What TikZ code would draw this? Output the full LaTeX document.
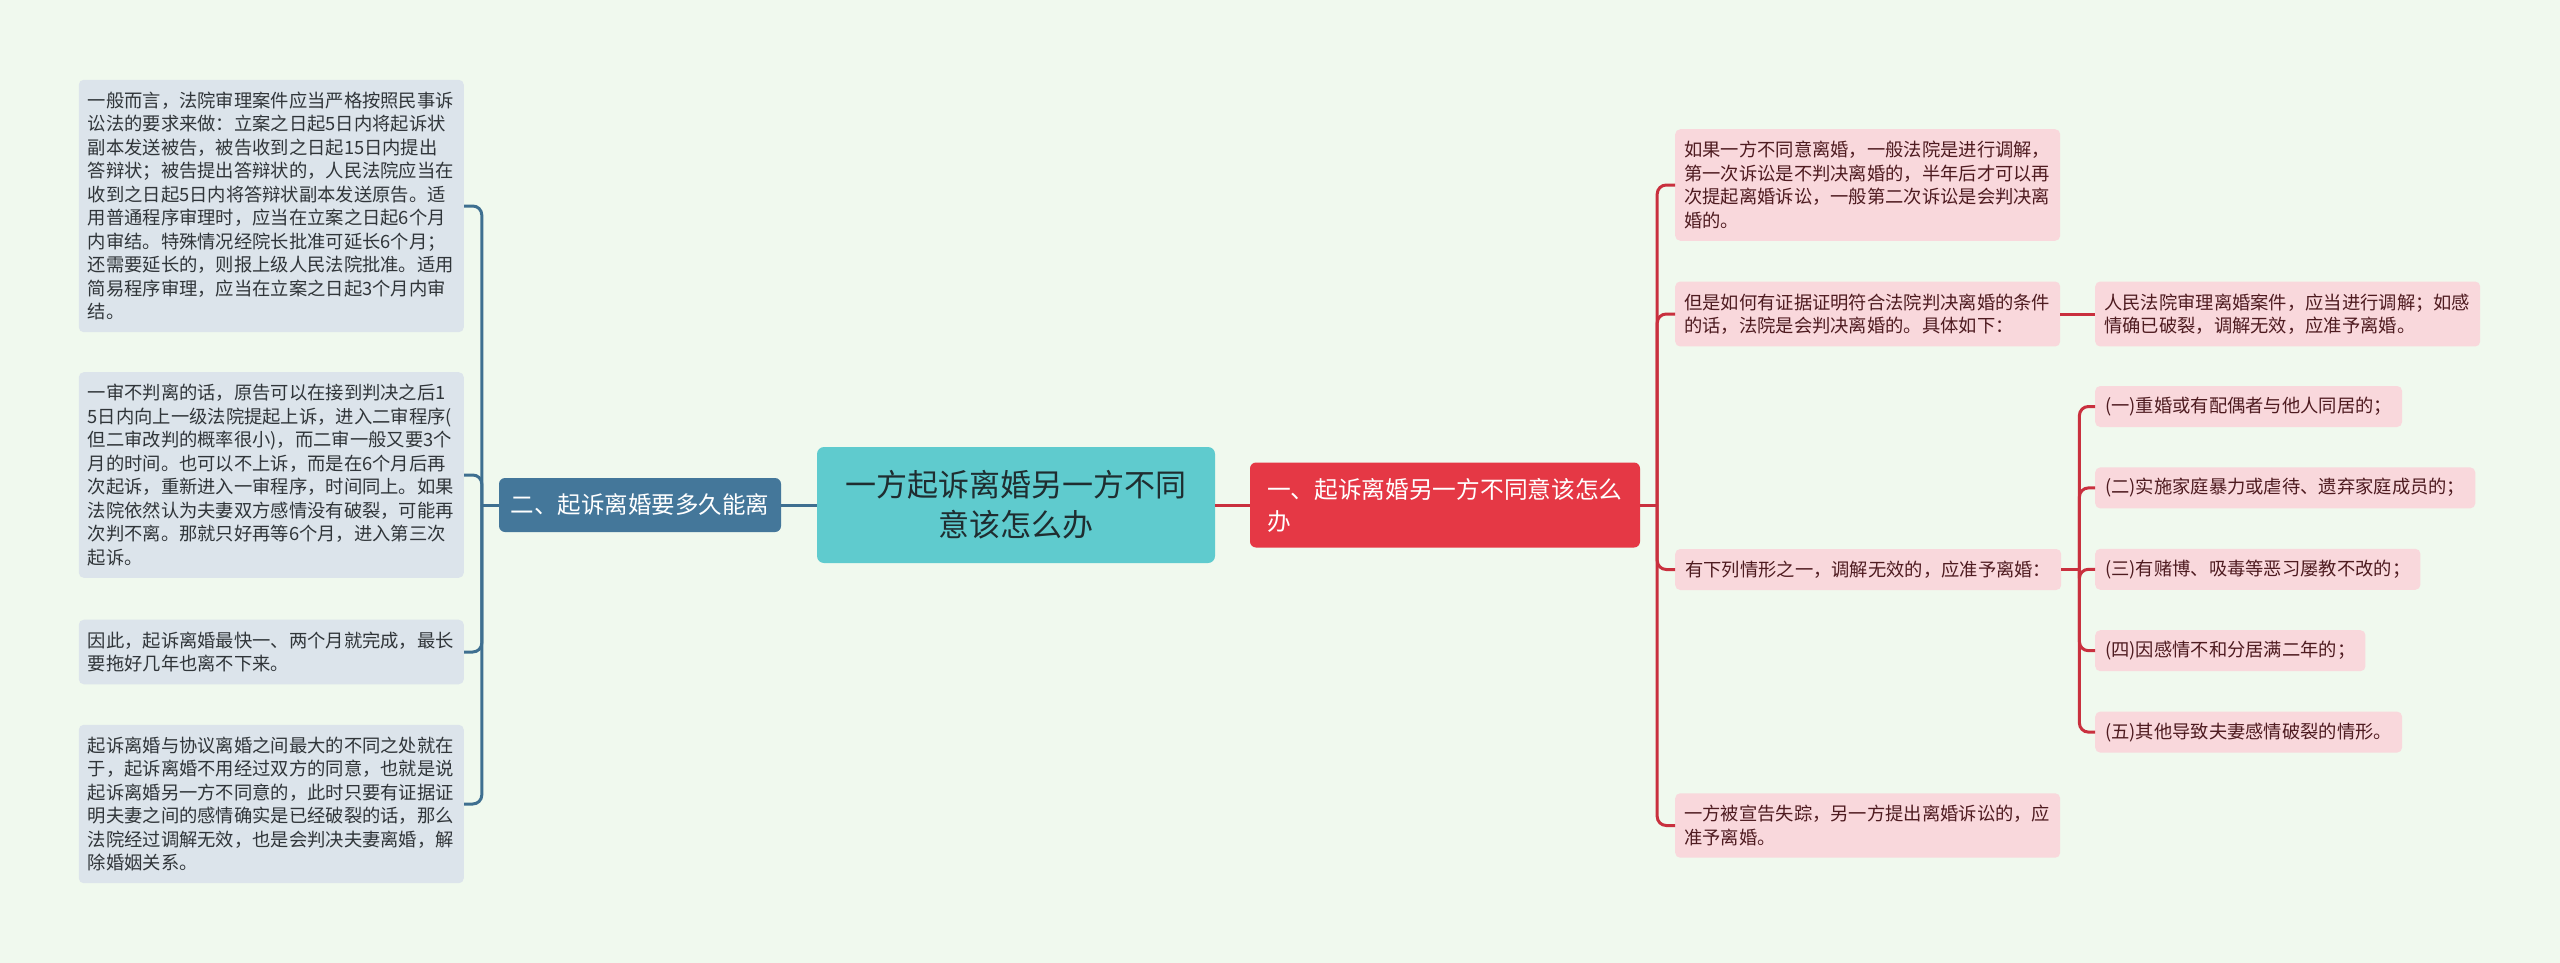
\documentclass[tikz,border=0pt]{standalone}
\usepackage{fontspec}
\setmainfont{Noto Sans CJK SC}
\usetikzlibrary{positioning, calc}
\definecolor{Canvas}{HTML}{F0F9EE}
\definecolor{RootTeal}{HTML}{5FCBCE}
\definecolor{RootInk}{HTML}{1F2D30}
\definecolor{SteelBlue}{HTML}{44779A}
\definecolor{BlueLine}{HTML}{3E6F90}
\definecolor{NoteBlue}{HTML}{DCE4EB}
\definecolor{NoteInk}{HTML}{303539}
\definecolor{Crimson}{HTML}{E53845}
\definecolor{RedLine}{HTML}{C9303E}
\definecolor{NotePink}{HTML}{F9D8DC}
\definecolor{PinkInk}{HTML}{4E1B20}

\begin{document}
\begin{tikzpicture}[
    x=1pt, y=-1pt,
    root/.style={
        fill=RootTeal, text=RootInk, rounded corners=7pt, inner sep=0pt,
        minimum width=398pt, minimum height=116pt, text width=342pt,
        align=center, font=\fontsize{31}{40}\selectfont
    },
    secL/.style={
        fill=SteelBlue, text=white, rounded corners=6pt, inner sep=0pt,
        minimum width=282pt, minimum height=54pt,
        font=\fontsize{23.5}{30}\selectfont
    },
    secR/.style={
        fill=Crimson, text=white, rounded corners=6pt, inner sep=0pt,
        minimum width=390pt, minimum height=85pt, text width=356pt,
        align=left, font=\fontsize{23.7}{32}\selectfont
    },
    noteL/.style={
        fill=NoteBlue, text=NoteInk, rounded corners=5pt,
        inner xsep=9pt, inner ysep=12pt, text width=367pt,
        align=left, font=\fontsize{18.3}{23.5}\selectfont
    },
    noteR/.style={noteL, fill=NotePink, text=PinkInk},
    itemR/.style={
        fill=NotePink, text=PinkInk, rounded corners=5pt,
        inner xsep=10pt, inner ysep=0pt, minimum height=41pt,
        font=\fontsize{18.3}{23.5}\selectfont
    },
    blueline/.style={draw=BlueLine, line width=3pt},
    redline/.style={draw=RedLine, line width=3pt}
]
\useasboundingbox (0,0) rectangle (2560,963);
\fill[Canvas] (0,0) rectangle (2560,963);

% =============================================
% Centre topic
% =============================================
\node[root] (root) at (1016,505) {一方起诉离婚另一方不同\\意该怎么办};

% =============================================
% Left branch: 二
% =============================================
\node[secL] (sec2) at (640,505) {二、起诉离婚要多久能离};

\node[noteL, anchor=east] (l1) at (464,206) {一般而言，法院审理案件应当严格按照民事诉\\讼法的要求来做：立案之日起5日内将起诉状\\副本发送被告，被告收到之日起15日内提出\\答辩状；被告提出答辩状的，人民法院应当在\\收到之日起5日内将答辩状副本发送原告。适\\用普通程序审理时，应当在立案之日起6个月\\内审结。特殊情况经院长批准可延长6个月；\\还需要延长的，则报上级人民法院批准。适用\\简易程序审理，应当在立案之日起3个月内审\\结。};
\node[noteL, anchor=east] (l2) at (464,475) {一审不判离的话，原告可以在接到判决之后1\\5日内向上一级法院提起上诉，进入二审程序(\\但二审改判的概率很小)，而二审一般又要3个\\月的时间。也可以不上诉，而是在6个月后再\\次起诉，重新进入一审程序，时间同上。如果\\法院依然认为夫妻双方感情没有破裂，可能再\\次判不离。那就只好再等6个月，进入第三次\\起诉。};
\node[noteL, anchor=east] (l3) at (464,652) {因此，起诉离婚最快一、两个月就完成，最长\\要拖好几年也离不下来。};
\node[noteL, anchor=east] (l4) at (464,804) {起诉离婚与协议离婚之间最大的不同之处就在\\于，起诉离婚不用经过双方的同意，也就是说\\起诉离婚另一方不同意的，此时只要有证据证\\明夫妻之间的感情确实是已经破裂的话，那么\\法院经过调解无效，也是会判决夫妻离婚，解\\除婚姻关系。};

\draw[blueline] (root.west) -- (sec2.east);
\coordinate (jL) at ($(sec2.west)+(-17,0)$);
\draw[blueline] (sec2.west) -- (jL);
\foreach \n in {l1,l2,l3,l4}
    \draw[blueline, rounded corners=9pt] (jL) |- (\n.east);

% =============================================
% Right branch: 一
% =============================================
\node[secR] (sec1) at (1445,505) {一、起诉离婚另一方不同意该怎么\\办};

\node[noteR, anchor=west] (r1) at (1675,185) {如果一方不同意离婚，一般法院是进行调解，\\第一次诉讼是不判决离婚的，半年后才可以再\\次提起离婚诉讼，一般第二次诉讼是会判决离\\婚的。};
\node[noteR, anchor=west] (r2) at (1675,314) {但是如何有证据证明符合法院判决离婚的条件\\的话，法院是会判决离婚的。具体如下：};
\node[itemR, anchor=west] (r3) at (1675,569.5) {有下列情形之一，调解无效的，应准予离婚：};
\node[noteR, anchor=west] (r4) at (1675,825.5) {一方被宣告失踪，另一方提出离婚诉讼的，应\\准予离婚。};

\node[noteR, anchor=west] (r2a) at (2095,314) {人民法院审理离婚案件，应当进行调解；如感\\情确已破裂，调解无效，应准予离婚。};

\draw[redline] (root.east) -- (sec1.west);
\coordinate (jR) at ($(sec1.east)+(17,0)$);
\draw[redline] (sec1.east) -- (jR);
\foreach \n in {r1,r2,r3,r4}
    \draw[redline, rounded corners=9pt] (jR) |- (\n.west);
\draw[redline] (r2.east) -- (r2a.west);

% =============================================
% Grounds listed under r3
% =============================================
\node[itemR, anchor=west] (c1) at (2095,406.5) {(一)重婚或有配偶者与他人同居的；};
\node[itemR, below=40pt of c1.south west, anchor=north west] (c2) {(二)实施家庭暴力或虐待、遗弃家庭成员的；};
\node[itemR, below=40pt of c2.south west, anchor=north west] (c3) {(三)有赌博、吸毒等恶习屡教不改的；};
\node[itemR, below=40pt of c3.south west, anchor=north west] (c4) {(四)因感情不和分居满二年的；};
\node[itemR, below=40pt of c4.south west, anchor=north west] (c5) {(五)其他导致夫妻感情破裂的情形。};

\coordinate (jC) at ($(r3.east)+(18,0)$);
\draw[redline] (r3.east) -- (jC);
\foreach \n in {c1,c2,c3,c4,c5}
    \draw[redline, rounded corners=9pt] (jC) |- (\n.west);

\end{tikzpicture}
\end{document}
